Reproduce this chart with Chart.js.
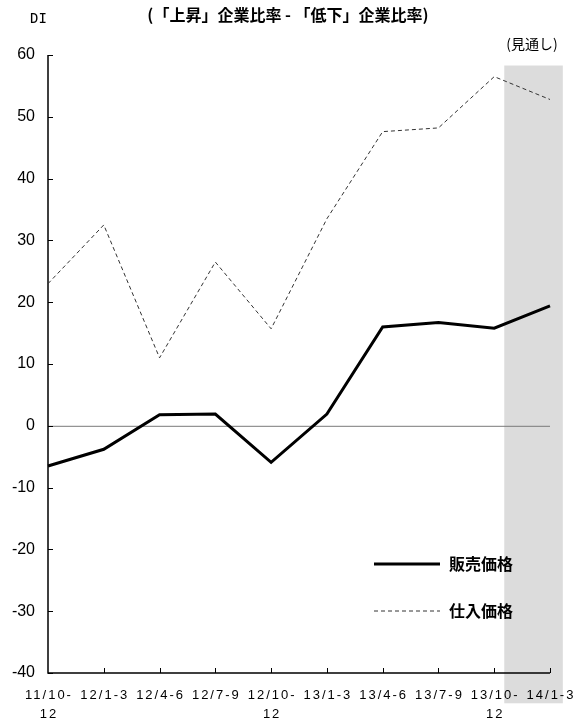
<!DOCTYPE html>
<html>
<head>
<meta charset="utf-8">
<script src="https://cdn.jsdelivr.net/npm/chart.js@4.4.1/dist/chart.umd.min.js"></script>
<style>
  html, body { margin: 0; padding: 0; background: #fff; }
  #wrap { width: 577px; height: 721px; position: relative; }
</style>
</head>
<body>
<div id="wrap"><canvas id="c" width="577" height="721"></canvas></div>
<script>
// Quarterly periods (two-line labels)
const categories = [
  ['11/10-', '12'], '12/1-3', '12/4-6', '12/7-9', ['12/10-', '12'],
  '13/1-3', '13/4-6', '13/7-9', ['13/10-', '12'], '14/1-3'
];
// DI values: share of firms reporting a rise minus share reporting a fall
const sellingPrice = [-6.5, -3.8, 1.8, 1.9, -5.9, 1.9, 16.0, 16.7, 15.8, 19.4];
const purchasePrice = [23.0, 32.5, 11.0, 26.5, 15.7, 33.5, 47.6, 48.2, 56.5, 52.8];
const seriesNames = ['販売価格', '仕入価格'];
const yTicks = [-40, -30, -20, -10, 0, 10, 20, 30, 40, 50, 60];
// Forecast band (last period)
const forecastFrom = 8.18, forecastTo = 9.23;
const forecastTop = 58.3, forecastBottom = -44.9;

const JP = '"Noto Sans CJK JP", "Noto Sans", sans-serif';
const LAT = '"Liberation Sans", Arial, sans-serif';

const decor = {
  id: 'decor',
  beforeDraw(chart) {
    const { ctx, scales: { x, y } } = chart;
    ctx.save();
    // forecast shading, behind the axis labels
    const x0 = x.getPixelForValue(forecastFrom), x1 = x.getPixelForValue(forecastTo);
    const y0 = y.getPixelForValue(forecastTop), y1 = y.getPixelForValue(forecastBottom);
    ctx.fillStyle = '#dcdcdc';
    ctx.fillRect(x0, y0, x1 - x0, y1 - y0);
    // category labels, letter-spaced, at the scale's own positions
    ctx.fillStyle = '#000';
    ctx.font = '13px ' + LAT;
    if ('letterSpacing' in ctx) ctx.letterSpacing = '2px';
    ctx.textAlign = 'center';
    ctx.textBaseline = 'middle';
    chart.data.labels.forEach((lab, i) => {
      const lines = Array.isArray(lab) ? lab : [lab];
      const px = x.getPixelForValue(i) + 1;
      lines.forEach((t, j) => ctx.fillText(t, px, y.bottom + 22 + j * 19));
    });
    ctx.restore();
  },
  beforeDatasetsDraw(chart) {
    const { ctx, scales: { x, y } } = chart;
    ctx.save();
    // zero line
    const yz = y.getPixelForValue(0);
    ctx.strokeStyle = '#7a7a7a';
    ctx.lineWidth = 1;
    ctx.beginPath();
    ctx.moveTo(x.left, yz + 0.5);
    ctx.lineTo(x.right, yz + 0.5);
    ctx.stroke();
    // axes
    ctx.strokeStyle = '#000';
    ctx.lineWidth = 1.5;
    ctx.beginPath();
    ctx.moveTo(x.left, y.top);
    ctx.lineTo(x.left, y.bottom);
    ctx.lineTo(x.right, y.bottom);
    ctx.stroke();
    // inward tick marks
    ctx.lineWidth = 1;
    ctx.beginPath();
    yTicks.forEach(v => {
      const py = Math.round(y.getPixelForValue(v)) + 0.5;
      ctx.moveTo(x.left, py);
      ctx.lineTo(x.left + 5, py);
    });
    for (let i = 1; i < categories.length; i++) {
      const px = Math.round(x.getPixelForValue(i)) + 0.5;
      ctx.moveTo(px, y.bottom);
      ctx.lineTo(px, y.bottom - 5);
    }
    ctx.stroke();
    ctx.restore();
  },
  afterDraw(chart) {
    const { ctx } = chart;
    const ds = chart.data.datasets;
    ctx.save();
    ctx.fillStyle = '#000';
    ctx.textBaseline = 'middle';
    // title
    ctx.font = 'bold 16px ' + JP;
    ctx.textAlign = 'center';
    ctx.fillText('(「上昇」企業比率 - 「低下」企業比率)', 288, 15);
    // unit
    ctx.font = '14px "DejaVu Sans Mono", monospace';
    ctx.textAlign = 'left';
    ctx.fillText('DI', 30, 19);
    // forecast note
    ctx.font = '14px ' + JP;
    ctx.textAlign = 'center';
    ctx.fillText('(見通し)', 532, 44);
    // legend
    const rows = [564, 611];
    ds.forEach((d, i) => {
      ctx.strokeStyle = d.borderColor;
      ctx.lineWidth = d.borderWidth;
      ctx.setLineDash(d.borderDash || []);
      ctx.beginPath();
      ctx.moveTo(374, rows[i]);
      ctx.lineTo(440, rows[i]);
      ctx.stroke();
      ctx.setLineDash([]);
      ctx.font = 'bold 16px ' + JP;
      ctx.textAlign = 'left';
      ctx.fillText(d.label, 449, rows[i]);
    });
    ctx.restore();
  }
};

new Chart(document.getElementById('c'), {
  type: 'line',
  data: {
    labels: categories,
    datasets: [
      {
        label: seriesNames[0],
        data: sellingPrice,
        borderColor: '#000',
        borderWidth: 3,
        pointRadius: 0,
        tension: 0,
        borderJoinStyle: 'miter'
      },
      {
        label: seriesNames[1],
        data: purchasePrice,
        borderColor: '#333',
        borderWidth: 1,
        borderDash: [4, 3],
        pointRadius: 0,
        tension: 0
      }
    ]
  },
  options: {
    responsive: false,
    animation: false,
    layout: { padding: { top: 55, right: 27, left: 0, bottom: 0 } },
    plugins: { legend: { display: false }, tooltip: { enabled: false }, title: { display: false } },
    scales: {
      x: {
        offset: false,
        grid: { display: false, drawTicks: false },
        border: { display: false },
        ticks: { display: false, autoSkip: false },
        afterFit(s) { s.height = 48; s.paddingLeft = 0; s.paddingRight = 0; }
      },
      y: {
        min: -40,
        max: 60,
        grid: { display: false, drawTicks: false },
        border: { display: false },
        ticks: {
          stepSize: 10,
          color: '#000',
          font: { family: LAT, size: 16 },
          padding: 13
        },
        afterFit(s) { s.width = 48; s.paddingTop = 0; s.paddingBottom = 0; }
      }
    }
  },
  plugins: [decor]
});
</script>
</body>
</html>
